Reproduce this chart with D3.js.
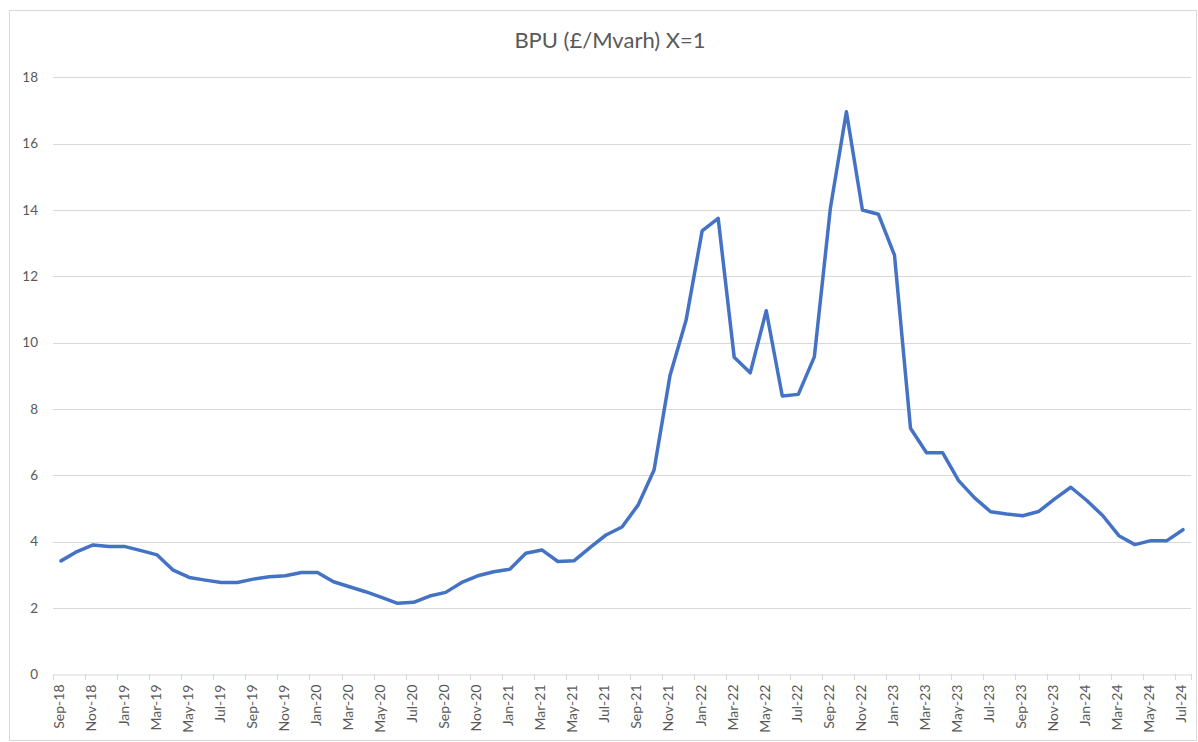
<!DOCTYPE html>
<html>
<head>
<meta charset="utf-8">
<script src="https://cdn.jsdelivr.net/npm/d3@7"></script>
<style>
  body { margin: 0; background: #fff; }
  text { font-family: Lato, "Open Sans", sans-serif; fill: #595959; }
</style>
</head>
<body>
<script>
// monthly labels Sep-18 .. Jul-24
const months = ["Sep-18","Oct-18","Nov-18","Dec-18",
  "Jan-19","Feb-19","Mar-19","Apr-19","May-19","Jun-19","Jul-19","Aug-19","Sep-19","Oct-19","Nov-19","Dec-19",
  "Jan-20","Feb-20","Mar-20","Apr-20","May-20","Jun-20","Jul-20","Aug-20","Sep-20","Oct-20","Nov-20","Dec-20",
  "Jan-21","Feb-21","Mar-21","Apr-21","May-21","Jun-21","Jul-21","Aug-21","Sep-21","Oct-21","Nov-21","Dec-21",
  "Jan-22","Feb-22","Mar-22","Apr-22","May-22","Jun-22","Jul-22","Aug-22","Sep-22","Oct-22","Nov-22","Dec-22",
  "Jan-23","Feb-23","Mar-23","Apr-23","May-23","Jun-23","Jul-23","Aug-23","Sep-23","Oct-23","Nov-23","Dec-23",
  "Jan-24","Feb-24","Mar-24","Apr-24","May-24","Jun-24","Jul-24"]

const bpu = [3.42,3.70,3.90,3.85,
  3.85,3.73,3.60,3.14,2.92,2.84,2.77,2.77,2.87,2.94,2.97,3.07,
  3.07,2.79,2.64,2.49,2.32,2.14,2.17,2.36,2.47,2.77,2.97,3.09,
  3.17,3.65,3.75,3.40,3.42,3.82,4.20,4.44,5.10,6.16,9.02,10.68,
  13.37,13.75,9.56,9.09,10.96,8.39,8.44,9.57,14.05,16.96,14.00,13.87,
  12.64,7.42,6.68,6.68,5.84,5.32,4.90,4.83,4.78,4.91,5.29,5.64,
  5.24,4.78,4.18,3.91,4.03,4.03,4.36]

const yTicks = [0,2,4,6,8,10,12,14,16,18]

const width = 1198, height = 742
const margin = {top: 77.3, right: 7, bottom: 67.7, left: 53}

const svg = d3.select("body").append("svg")
    .attr("width", width)
    .attr("height", height)

svg.append("rect")
    .attr("x", 9.5).attr("y", 10.5)
    .attr("width", 1187).attr("height", 730)
    .attr("fill", "#fff")
    .attr("stroke", "#d9d9d9")

const x = d3.scaleBand()
    .domain(months)
    .range([margin.left, width - margin.right])

const y = d3.scaleLinear()
    .domain([0, 18])
    .range([height - margin.bottom, margin.top])

// gridlines
svg.append("g")
  .selectAll("line")
  .data(yTicks.filter(d => d > 0))
  .join("line")
    .attr("x1", margin.left)
    .attr("x2", width - margin.right)
    .attr("y1", d => Math.round(y(d)) + 0.5)
    .attr("y2", d => Math.round(y(d)) + 0.5)
    .attr("stroke", "#d9d9d9")

// y axis labels
svg.append("g")
  .selectAll("text")
  .data(yTicks)
  .join("text")
    .attr("x", 38)
    .attr("y", d => y(d))
    .attr("dy", "0.35em")
    .attr("text-anchor", "end")
    .attr("font-size", 13.5)
    .text(d => d)

// x axis
const xAxis = g => g
    .attr("transform", `translate(0,${Math.round(y(0)) + 0.5})`)
    .call(d3.axisBottom(x)
        .tickValues(months.filter((d, i) => i % 2 === 0))
        .tickSize(0))
    .call(g => g.select(".domain").attr("stroke", "#d9d9d9"))
    .call(g => g.selectAll(".tick line").remove())
    .call(g => g.selectAll(".tick text")
        .attr("font-family", "Lato, 'Open Sans', sans-serif")
        .attr("font-size", 14)
        .attr("fill", "#595959")
        .attr("transform", "rotate(-90)")
        .attr("text-anchor", "end")
        .attr("x", -10)
        .attr("y", -1.5)
        .attr("dy", "0.35em"))

svg.append("g").call(xAxis)

// tick marks between categories, every 2 months
svg.append("g")
  .selectAll("line")
  .data(months.filter((d, i) => i % 2 === 0).concat([null]))
  .join("line")
    .attr("x1", d => Math.round(d ? x(d) : x.range()[1]) + 0.5)
    .attr("x2", d => Math.round(d ? x(d) : x.range()[1]) + 0.5)
    .attr("y1", Math.round(y(0)))
    .attr("y2", Math.round(y(0)) + 6)
    .attr("stroke", "#d9d9d9")

const line = d3.line()
    .x((d, i) => x(months[i]) + x.bandwidth() / 2)
    .y(d => y(d))

svg.append("path")
    .datum(bpu)
    .attr("d", line)
    .attr("fill", "none")
    .attr("stroke", "#4472c4")
    .attr("stroke-width", 3.5)
    .attr("stroke-linejoin", "round")
    .attr("stroke-linecap", "round")

svg.append("text")
    .attr("x", 610)
    .attr("y", 40)
    .attr("dy", "0.35em")
    .attr("text-anchor", "middle")
    .attr("font-size", 22)
    .text("BPU (£/Mvarh) X=1")
</script>
</body>
</html>
